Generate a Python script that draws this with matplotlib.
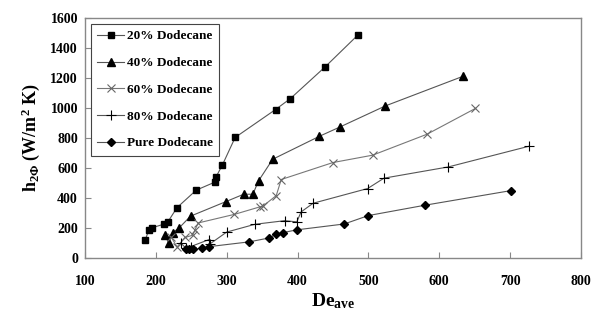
import numpy as np
from matplotlib import pyplot as plt

plt.rcParams['font.family'] = ['Liberation Serif', 'DejaVu Serif']
plt.rcParams['font.weight'] = 'bold'
plt.rcParams['axes.labelweight'] = 'bold'
plt.rcParams['mathtext.fontset'] = 'custom'
plt.rcParams['mathtext.rm'] = 'Liberation Serif:bold'
plt.rcParams['mathtext.it'] = 'Liberation Serif:bold'
plt.rcParams['mathtext.bf'] = 'Liberation Serif:bold'

# Данные
x_20 = [185, 190, 194, 211, 217, 230, 257, 284, 285, 294, 312, 369, 390, 439, 485]
y_20 = [118, 184, 200, 224, 240, 335, 451, 506, 539, 619, 802, 988, 1061, 1272, 1483]

x_40 = [213, 218, 224, 233, 249, 299, 324, 337, 345, 365, 431, 460, 524, 634]
y_40 = [151, 100, 169, 200, 278, 375, 424, 424, 513, 657, 810, 872, 1012, 1210]

x_60 = [222, 230, 241, 252, 255, 260, 311, 347, 351, 370, 377, 450, 506, 583, 651]
y_60 = [136, 73, 136, 151, 184, 233, 290, 340, 344, 415, 522, 635, 684, 824, 995]

x_80 = [235, 243, 249, 275, 277, 300, 340, 382, 399, 405, 422, 499, 522, 613, 727]
y_80 = [100, 63, 75, 122, 95, 172, 224, 248, 240, 306, 364, 462, 531, 606, 744]

x_pure = [243, 247, 252, 265, 275, 332, 360, 370, 379, 399, 466, 500, 580, 701]
y_pure = [60, 57, 57, 65, 75, 107, 133, 158, 168, 187, 226, 282, 351, 448]

labels = ['20% Dodecane', '40% Dodecane', '60% Dodecane', '80% Dodecane', 'Pure Dodecane']

fig = plt.figure(figsize=(5.94, 3.2), dpi=100)
ax = fig.add_axes([0.143, 0.194, 0.835, 0.751])

line_c = '#555555'
ax.plot(x_20, y_20, color=line_c, lw=0.8, marker='s', ms=5, mfc='black', mec='black', label=labels[0])
ax.plot(x_40, y_40, color=line_c, lw=0.8, marker='^', ms=5.5, mfc='black', mec='black', label=labels[1])
ax.plot(x_60, y_60, color='#777777', lw=0.8, marker='x', ms=6, mew=0.8, mec='#666666', label=labels[2])
ax.plot(x_80, y_80, color=line_c, lw=0.8, marker='+', ms=7, mew=0.8, mec='black', label=labels[3])
ax.plot(x_pure, y_pure, color=line_c, lw=0.8, marker='D', ms=4, mfc='black', mec='black', label=labels[4])

ax.set_xlim(100, 800)
ax.set_ylim(0, 1600)
ax.set_xticks(np.arange(100, 801, 100))
ax.set_yticks(np.arange(0, 1601, 200))
ax.tick_params(direction='in', length=4, color='#888888', labelsize=10, pad=12)
ax.tick_params(axis='y', pad=5)
for s in ax.spines.values():
    s.set_color('#888888')
    s.set_linewidth(1.0)

ax.set_xlabel(r'De$_{\mathrm{ave}}$', fontsize=14, labelpad=3)
ax.set_ylabel(r'h$_{2\Phi}$ (W/m$^{2}$ K)', fontsize=13, labelpad=6)

leg = ax.legend(loc='upper left', bbox_to_anchor=(0.012, 0.975), fontsize=9.5,
                frameon=True, fancybox=False, edgecolor='#444444', framealpha=1,
                labelspacing=1.1, handlelength=2.0, handletextpad=0.2, borderpad=0.5,
                borderaxespad=0)
leg.get_frame().set_linewidth(0.8)

plt.savefig('out.png', dpi=100)
plt.close()
